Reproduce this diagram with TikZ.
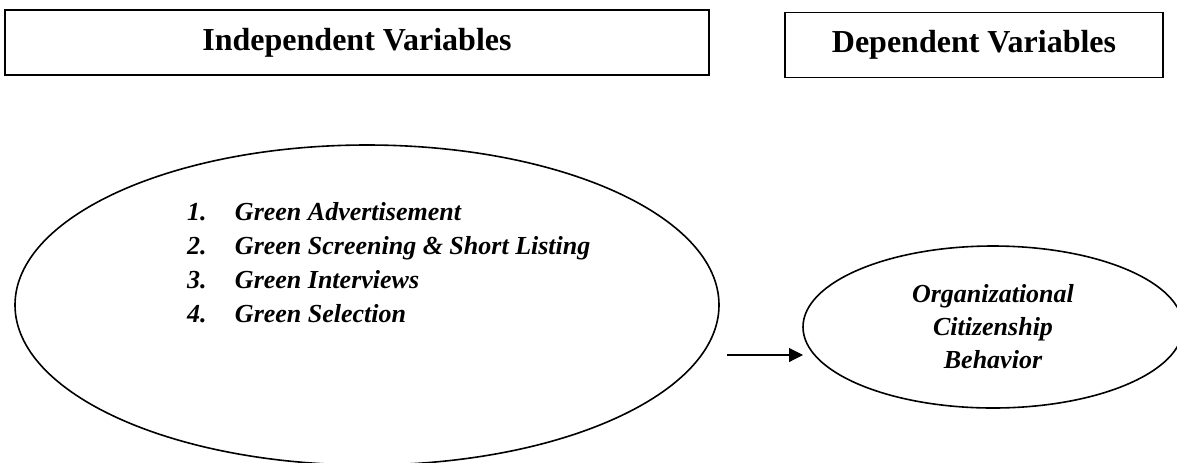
\documentclass[tikz,border=0pt]{standalone}
\usepackage{fontspec}
\setmainfont{Liberation Serif}
\usepackage{tikz}
\usetikzlibrary{arrows.meta, positioning, shapes.geometric}

\begin{document}
\begin{tikzpicture}[
        x=0.5pt, y=-0.5pt,
        every node/.style={align=center, outer sep=0pt},
        hdrbox/.style={rectangle, draw=black, line width=0.75pt, inner sep=0pt,
                       minimum height=32.5pt,
                       font=\fontsize{16}{19}\selectfont\bfseries},
        varell/.style={ellipse, draw=black, line width=0.8pt, inner sep=0pt},
        itemlist/.style={align=left, inner sep=0pt, anchor=north west,
                         font=\fontsize{13}{17}\selectfont\bfseries\itshape},
        link/.style={line width=0.55pt, -{Triangle[length=7pt, width=7pt]}}
    ]
        \useasboundingbox (0,0) rectangle (1177,462);

        % --- Encabezados ---
        \node[hdrbox, minimum width=352pt] (hInd) at (357,42.5)
            {Independent Variables};
        \node[hdrbox, minimum width=189pt] (hDep) at (974,45)
            {Dependent Variables};

        % --- Variables independientes ---
        \node[varell, minimum width=352pt, minimum height=160pt] (ivEll) at (367,305) {};
        \node[itemlist] (ivList) at ([xshift=-90pt, yshift=51.5pt]ivEll.center)
            {\makebox[24pt][l]{1.}Green Advertisement\\
             \makebox[24pt][l]{2.}Green Screening \& Short Listing\\
             \makebox[24pt][l]{3.}Green Interviews\\
             \makebox[24pt][l]{4.}Green Selection};

        % --- Variable dependiente ---
        \node[varell, minimum width=190pt, minimum height=81pt,
              font=\fontsize{13}{16.5}\selectfont\bfseries\itshape] (ocbEll) at (993,327)
            {Organizational\\Citizenship\\Behavior};

        \coordinate (arrStart) at (727,355);
        \draw[link] (arrStart) -- (arrStart -| ocbEll.west);
    \end{tikzpicture}
\end{document}
